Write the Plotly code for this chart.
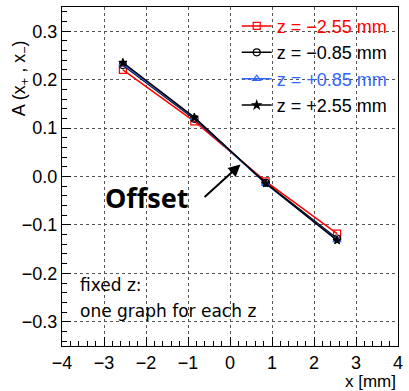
import plotly.graph_objects as go

x_pos = [-2.55, -0.85, 0.85, 2.55]
labels = ["z = \u22122.55 mm", "z = \u22120.85 mm", "z = +0.85 mm", "z = +2.55 mm"]
y_m255 = [0.220, 0.114, -0.010, -0.118]
y_m085 = [0.230, 0.119, -0.013, -0.128]
y_p085 = [0.232, 0.121, -0.015, -0.131]
y_p255 = [0.235, 0.122, -0.014, -0.132]
colors = ["#ff0000", "#000000", "#3366ff", "#000000"]
symbols = ["square-open", "circle-open", "triangle-up-open", "star"]
series = [y_m255, y_m085, y_p085, y_p255]

fig = go.Figure()
for i, (ys, lab, c, s) in enumerate(zip(series, labels, colors, symbols)):
    fig.add_trace(go.Scatter(
        x=x_pos, y=ys, mode="lines+markers",
        name=f"<span style='color:{c}'>{lab}</span>",
        line=dict(color=c, width=1.5),
        marker=dict(symbol=s, size=6 if s == "star" else 7, color=c, line=dict(color=c, width=1.2)),
    ))

axis_common = dict(
    showline=True, linecolor="black", linewidth=1, mirror=True,
    ticks="inside", tickcolor="black", showgrid=True, gridcolor="#555555",
    griddash="dot", gridwidth=1, zeroline=False,
    tickfont=dict(family="Liberation Sans, Arial, sans-serif", size=18, color="black"),
)

fig.update_xaxes(range=[-4, 4], ticklen=9,
                 minor=dict(ticks="inside", dtick=0.2, ticklen=5, tickcolor="black", showgrid=False),
                 tickvals=[-4, -3, -2, -1, 0, 1, 2, 3, 4],
                 ticktext=["\u22124", "\u22123", "\u22122", "\u22121", "0", "1", "2", "3", "4"],
                 **axis_common)
fig.update_yaxes(range=[-0.35, 0.35], ticklen=9,
                 minor=dict(ticks="inside", dtick=0.02, ticklen=5, tickcolor="black", showgrid=False),
                 tickvals=[-0.3, -0.2, -0.1, 0.0, 0.1, 0.2, 0.3],
                 ticktext=["\u22120.3", "\u22120.2", "\u22120.1", "0.0", "0.1", "0.2", "0.3"],
                 **axis_common)

fig.add_annotation(x=0.25, y=0.025, ax=-0.64, ay=-0.045, xref="x", yref="y", axref="x", ayref="y",
                   showarrow=True, arrowhead=2, arrowsize=1.2, arrowwidth=2, arrowcolor="black", text="")
fig.add_annotation(x=-1.98, y=-0.043, xref="x", yref="y", text="<b>Offset</b>", showarrow=False,
                   font=dict(family="Noto Sans, sans-serif", size=27, color="black"))
fig.add_annotation(x=-3.62, y=-0.225, xref="x", yref="y", xanchor="left", text="fixed z:", showarrow=False,
                   font=dict(family="DejaVu Sans, sans-serif", size=17, color="black"))
fig.add_annotation(x=-3.62, y=-0.277, xref="x", yref="y", xanchor="left", text="one graph for each z",
                   showarrow=False, font=dict(family="DejaVu Sans, sans-serif", size=17, color="black"))
fig.add_annotation(x=1.0, y=-0.105, xref="paper", yref="paper", xanchor="right", yanchor="middle",
                   text="x [mm]", showarrow=False,
                   font=dict(family="Liberation Sans, Arial, sans-serif", size=17, color="black"))
fig.add_annotation(x=-0.125, y=0.79, xref="paper", yref="paper", xanchor="center", yanchor="middle",
                   textangle=-90, text="A (x<sub>+</sub> , x<sub>\u2212</sub>)", showarrow=False,
                   font=dict(family="Liberation Sans, Arial, sans-serif", size=18, color="black"))

fig.update_layout(
    width=409, height=391,
    margin=dict(l=62, r=6, t=7, b=45),
    paper_bgcolor="white", plot_bgcolor="white",
    showlegend=True,
    legend=dict(x=0.52, y=0.998, xanchor="left", yanchor="top", bgcolor="rgba(0,0,0,0)",
                font=dict(family="Liberation Sans, Arial, sans-serif", size=18, color="black"),
                itemwidth=30),
)

fig.write_html("out.html")
